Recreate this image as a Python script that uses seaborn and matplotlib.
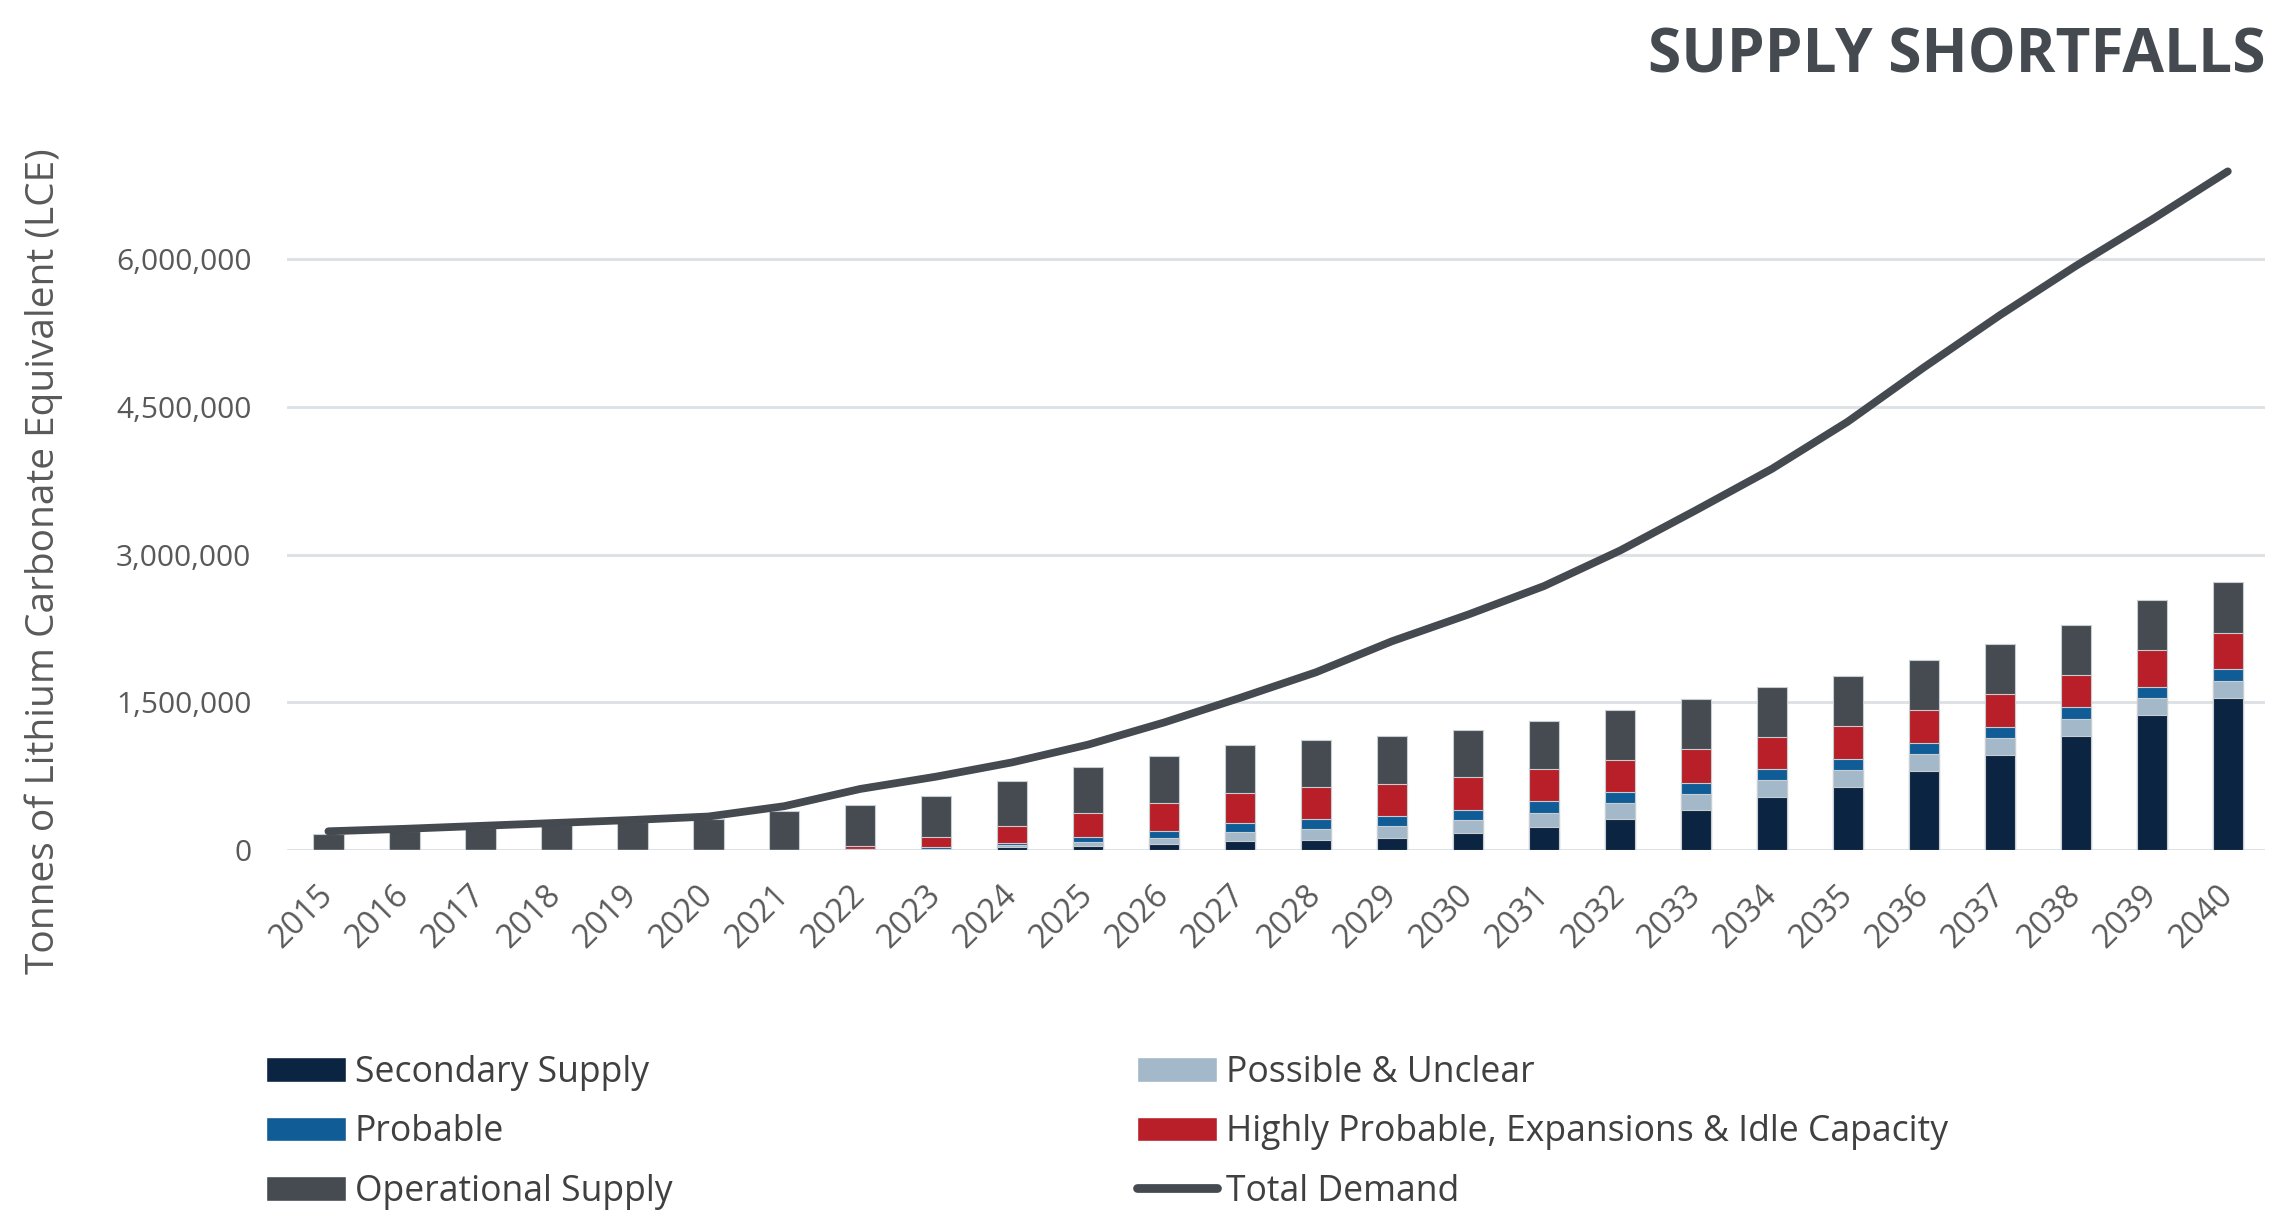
#! /usr/bin/env python3
import numpy as np
import matplotlib
matplotlib.use("Agg")
import matplotlib.pyplot as plt
import seaborn as sns
from matplotlib.patches import Patch
from matplotlib.lines import Line2D
from matplotlib.ticker import FuncFormatter

# values (tonnes LCE)
years = [str(y) for y in range(2015, 2041)]
secondary = [0, 0, 0, 0, 0, 0, 0, 8000, 5000, 30000, 44000, 58000, 88000, 105000,
             122000, 173000, 234000, 318000, 406000, 535000, 637000, 802000,
             968000, 1161000, 1371000, 1547000]
possible = [0, 0, 0, 0, 0, 0, 0, 0, 7000, 20000, 37000, 68000, 93000, 108000,
            125000, 132000, 146000, 159000, 166000, 173000, 173000, 173000,
            173000, 173000, 173000, 173000]
probable = [0, 0, 0, 0, 0, 0, 5000, 0, 14000, 20000, 51000, 68000, 91000, 102000,
            95000, 98000, 115000, 108000, 112000, 112000, 112000, 112000,
            112000, 115000, 112000, 115000]
highly_probable = [0, 0, 0, 0, 0, 0, 0, 37000, 102000, 169000, 244000, 288000,
                   311000, 325000, 325000, 335000, 325000, 328000, 339000, 332000,
                   332000, 335000, 332000, 328000, 376000, 372000]
operational = [162000, 190000, 222000, 252000, 283000, 318000, 388000, 412000,
               416000, 457000, 467000, 474000, 481000, 481000, 488000, 477000,
               494000, 505000, 508000, 505000, 511000, 505000, 511000, 511000,
               505000, 511000]
total_demand = [190000, 215000, 245000, 275000, 305000, 340000, 445000, 620000,
                745000, 890000, 1070000, 1295000, 1545000, 1805000, 2120000,
                2390000, 2680000, 3040000, 3450000, 3870000, 4350000, 4900000,
                5430000, 5930000, 6400000, 6890000]

labels = ["Secondary Supply", "Possible & Unclear", "Probable",
          "Highly Probable, Expansions & Idle Capacity", "Operational Supply"]
colors = ["#0b2442", "#a3b8c8", "#105c97", "#b81f28", "#464a51"]
LINE_COLOR = "#454a51"
TEXT_COLOR = "#595959"

sns.set_theme(style="white")
plt.rcParams["font.family"] = ["Open Sans", "DejaVu Sans"]

fig = plt.figure(figsize=(22.81, 12.19), dpi=100)
ax = fig.add_axes([0.126, 0.3027, 0.867, 0.606])

# stacked bars: draw cumulative totals from the top layer down
stack = np.cumsum(np.array([secondary, possible, probable, highly_probable, operational]), axis=0)
for i in reversed(range(len(labels))):
    sns.barplot(x=years, y=stack[i], color=colors[i], saturation=1, width=0.4,
                edgecolor="#c8cdd2", linewidth=0.8, ax=ax)

sns.lineplot(x=years, y=total_demand, ax=ax, color=LINE_COLOR, linewidth=5.6,
             sort=False, legend=False, solid_capstyle="round")

ax.set_ylim(0, 7500000)
ax.set_xlim(-0.54, 25.49)
ax.set_yticks([0, 1500000, 3000000, 4500000, 6000000])
ax.yaxis.set_major_formatter(FuncFormatter(lambda v, p: f"{v:,.0f}"))
ax.yaxis.grid(True, color="#dde0e4", linewidth=2)
ax.xaxis.grid(False)
ax.set_axisbelow(True)
sns.despine(ax=ax, left=True, bottom=True)
ax.set_xlabel("")
ax.set_ylabel("")

ax.tick_params(axis="y", length=0, pad=26, labelsize=21.5, labelcolor=TEXT_COLOR)
ax.tick_params(axis="x", length=0, pad=29, labelsize=23.5, labelcolor=TEXT_COLOR)
for lbl in ax.get_xticklabels():
    lbl.set_rotation(45)
    lbl.set_ha("right")
    lbl.set_va("center")
    lbl.set_rotation_mode("anchor")

fig.text(0.0193, 0.54, "Tonnes of Lithium Carbonate Equivalent (LCE)", rotation=90,
         ha="center", va="center", fontsize=28, color=TEXT_COLOR)
fig.text(0.993, 0.953, "SUPPLY SHORTFALLS", ha="right", va="center", fontsize=43.5,
         fontweight="bold", color=LINE_COLOR)

# legend, column-first order gives the two-column layout of the reference
handles = [
    Patch(facecolor=colors[0], label=labels[0]),
    Patch(facecolor=colors[2], label=labels[2]),
    Patch(facecolor=colors[4], label=labels[4]),
    Patch(facecolor=colors[1], label=labels[1]),
    Patch(facecolor=colors[3], label=labels[3]),
    Line2D([], [], color=LINE_COLOR, linewidth=6.3, solid_capstyle="round", label="Total Demand"),
]
fig.legend(handles=handles, loc="upper left", bbox_to_anchor=(266 / 2281, 1 - 1055 / 1219),
           ncol=2, frameon=False, fontsize=25.6, handlelength=2.25, handleheight=0.7,
           handletextpad=0.25, columnspacing=13.07, labelspacing=0.66, borderpad=0,
           borderaxespad=0, labelcolor="#404040")

fig.savefig("out.png", dpi=100)
